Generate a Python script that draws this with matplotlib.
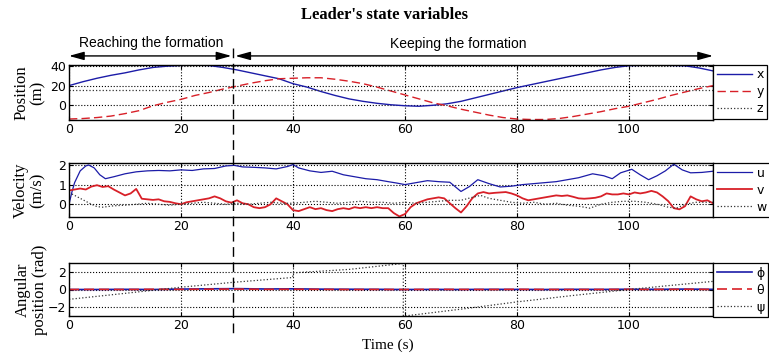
import matplotlib.pyplot as plt
from matplotlib import transforms
from matplotlib.lines import Line2D

plt.rcParams['font.family'] = ['DejaVu Sans']

# --- position (m) ---
t_pos = [0, 2.5, 5, 7.5, 10, 12.5, 15, 17.5, 20, 22.5, 25, 27.5, 30, 32.5, 35, 37.5,
         40, 42.5, 45, 47.5, 50, 52.5, 55, 57.5, 60, 62.5, 65, 67.5, 70, 72.5, 75, 77.5,
         80, 82.5, 85, 87.5, 90, 92.5, 95, 97.5, 100, 102.5, 105, 107.5, 110, 112.5, 115]
pos_x = [20, 24, 27.5, 30.5, 33, 36, 38.5, 39.8, 40.6, 40.8, 40.5, 38.5, 36, 33, 30, 27,
         22, 18.5, 14, 10, 6.5, 4, 2, 0.5, -0.5, -1, 0, 1.5, 4, 7.5, 11, 14.5,
         18, 21, 24, 27, 30, 33, 36, 38.5, 40.3, 40.7, 40.8, 40.6, 40.2, 38, 35]
pos_y = [-14, -13.5, -12.5, -11, -8.5, -5.5, -0.5, 3, 6, 10, 13, 16.5, 19.5, 22.5, 25, 27,
         27.5, 28, 28, 26.5, 24.5, 22, 18.5, 14.5, 10.5, 6.5, 2.5, -0.5, -4, -7, -10, -12.5,
         -14, -14.5, -14.5, -13.5, -11.5, -9, -6.5, -3.5, -1, 2.5, 6, 10, 13.5, 17, 20]
t_z = [0, 115]
pos_z = [16, 16]

# --- velocity (m/s) ---
t_u = [0, 0.5, 1, 2, 3, 3.5, 4.5, 5.5, 6.5, 8, 10, 12, 14, 16, 18, 20, 22, 24, 26, 28,
       29.5, 31, 33, 35, 37, 39, 40, 41, 43, 45, 47, 49, 51, 53, 55, 57, 58.5, 60, 62, 64,
       66, 68, 70, 71.5, 73, 75, 77, 79, 81, 83, 85, 87, 89, 91, 93.5, 95.5, 97, 98.5,
       100.5, 102, 103.5, 105, 106.5, 108, 109.5, 111, 113, 115]
vel_u = [0, 0.6, 1.1, 1.7, 1.95, 2.0, 1.85, 1.5, 1.3, 1.4, 1.55, 1.65, 1.7, 1.72, 1.7, 1.75,
         1.72, 1.8, 1.82, 1.95, 1.98, 1.9, 1.88, 1.85, 1.8, 1.92, 2.02, 1.85, 1.7, 1.62,
         1.68, 1.5, 1.4, 1.3, 1.25, 1.15, 1.08, 1.0, 1.1, 1.2, 1.15, 1.12, 0.65, 0.9, 1.25,
         1.05, 0.88, 0.92, 1.0, 1.05, 1.1, 1.15, 1.25, 1.35, 1.55, 1.45, 1.3, 1.6, 1.78,
         1.5, 1.25, 1.45, 1.7, 2.04, 1.75, 1.6, 1.62, 1.68]
t_v = list(range(0, 116))
vel_v = [0.7, 0.75, 0.8, 0.75, 0.9, 0.97, 0.88, 0.92, 0.75, 0.6, 0.45, 0.55, 0.78, 0.28,
         0.25, 0.22, 0.25, 0.15, 0.12, 0.05, 0.0, 0.1, 0.15, 0.2, 0.25, 0.3, 0.4, 0.3, 0.15,
         0.08, 0.2, 0.05, 0.0, -0.15, -0.2, -0.15, 0.0, 0.3, 0.15, 0.0, -0.3, -0.35, -0.25,
         -0.15, -0.25, -0.2, -0.3, -0.35, -0.25, -0.2, -0.25, -0.15, -0.2, -0.15, -0.2,
         -0.15, -0.2, -0.2, -0.45, -0.62, -0.5, -0.15, 0.05, 0.15, 0.25, 0.3, 0.35, 0.3,
         0.05, -0.2, -0.42, -0.1, 0.3, 0.55, 0.62, 0.55, 0.58, 0.6, 0.62, 0.55, 0.45, 0.3,
         0.2, 0.25, 0.3, 0.35, 0.4, 0.45, 0.42, 0.45, 0.38, 0.3, 0.28, 0.3, 0.33, 0.4, 0.55,
         0.5, 0.5, 0.55, 0.5, 0.6, 0.55, 0.6, 0.68, 0.6, 0.4, 0.16, -0.2, -0.26, -0.1, 0.4,
         0.25, 0.15, 0.2, 0.05]
t_w = [0, 1, 2, 3, 4, 5, 6, 8, 10, 12, 14, 16, 18, 20, 22, 24, 26, 28, 30, 32, 34, 36, 38,
       40, 42, 44, 46, 48, 50, 52, 54, 56, 58, 60, 62, 64, 66, 68, 70, 72, 73.5, 75, 77, 79,
       81, 83, 85, 87, 89, 91, 93, 95, 97, 99, 101, 103, 105, 107, 108.5, 110, 112, 115]
vel_w = [0.6, 0.45, 0.3, 0.15, 0.0, -0.12, -0.15, -0.08, -0.05, 0.0, 0.05, 0.0, -0.05, 0.0,
         0.05, 0.1, 0.05, 0.0, 0.05, 0.0, 0.05, 0.1, 0.05, 0.05, 0.1, 0.15, 0.1, 0.05, 0.1,
         0.15, 0.1, 0.1, 0.05, 0.1, 0.05, 0.1, 0.15, 0.2, 0.2, 0.35, 0.45, 0.3, 0.2, 0.1,
         0.05, 0.1, 0.0, 0.05, -0.05, -0.1, -0.2, 0.0, 0.1, 0.15, 0.15, 0.1, 0.0, -0.15,
         -0.2, 0.0, 0.1, 0.1]

# --- angular position (rad) ---
t_ang = [0, 5, 10, 15, 20, 25, 30, 35, 40, 45, 50, 55, 60, 65, 70, 75, 80, 85, 90, 95,
         100, 105, 110, 115]
ang_phi = [0, 0, 0.02, 0, 0.05, 0.08, 0.1, 0.06, 0.08, 0.04, 0.03, 0.02, 0, 0.01, 0, 0.02,
           0.01, 0, 0.02, 0.01, 0.03, 0.02, 0.05, 0.02]
ang_theta = [0, 0.02, 0, 0.03, 0.02, 0.04, 0.05, 0.02, 0.03, 0.02, 0, 0.01, 0, 0.02, 0.01,
             0, 0.02, 0.01, 0, 0.01, 0.02, 0.01, 0.03, 0.01]
t_psi = [0, 10, 20, 29.3, 39.9, 40.1, 50, 59.7, 59.7, 70, 80, 90, 100, 107, 115]
ang_psi = [-1.15, -0.45, 0.27, 0.84, 1.4, 1.95, 2.35, 3.05, -3.12, -2.3, -1.45, -0.7, 0.0,
           0.45, 0.95]

t_switch = 29.3

blue = '#1c1ca8'
red = '#d82028'
dots = '#333333'
serif = ['Liberation Serif', 'DejaVu Serif']
sans = ['Liberation Sans', 'DejaVu Sans']

fig = plt.figure(figsize=(7.69, 3.58), dpi=100)
W, H = 769.0, 358.0

def panel(top, bottom):
    return fig.add_axes([69 / W, 1 - bottom / H, (713 - 69) / W, (bottom - top) / H])

ax1 = panel(65, 120)
ax2 = panel(163, 217)
ax3 = panel(263, 316)

ax1.plot(t_pos, pos_x, color=blue, lw=1.0, label='x')
ax1.plot(t_pos, pos_y, color=red, lw=1.0, ls=(0, (6, 3)), label='y')
ax1.plot(t_z, pos_z, color=dots, lw=0.9, ls=':', label='z')
ax1.set_ylim(-15, 41)
ax1.set_yticks([0, 20, 40])

ax2.plot(t_u, vel_u, color=blue, lw=0.9, label='u')
ax2.plot(t_v, vel_v, color=red, lw=1.3, label='v')
ax2.plot(t_w, vel_w, color=dots, lw=0.9, ls=':', label='w')
ax2.set_ylim(-0.65, 2.1)
ax2.set_yticks([0, 1, 2])

ax3.plot(t_ang, ang_phi, color=blue, lw=1.2, label='ϕ')
ax3.plot(t_ang, ang_theta, color=red, lw=1.2, ls=(0, (6, 3)), label='θ')
ax3.plot(t_psi, ang_psi, color=dots, lw=0.9, ls=':', label='ψ')
ax3.set_ylim(-3.1, 3.1)
ax3.set_yticks([-2, 0, 2])

labels = [('Position\n(m)', ax1, -0.036), ('Velocity\n(m/s)', ax2, -0.036),
          ('Angular\nposition (rad)', ax3, -0.033)]
for text, ax, xpos in labels:
    ax.set_xlim(0, 115)
    ax.set_xticks([0, 20, 40, 60, 80, 100])
    ax.grid(True, color='black', ls=':', lw=0.8)
    ax.tick_params(direction='in', length=3, labelsize=9, top=True, right=True, pad=2)
    for s in ax.spines.values():
        s.set_linewidth(1.0)
    ax.set_ylabel(text, fontsize=12, family=serif, linespacing=1.05)
    ax.yaxis.set_label_coords(xpos, 0.5)
    leg = ax.legend(loc='upper left', bbox_to_anchor=(1.0, 1.0), borderaxespad=0,
                    fancybox=False, edgecolor='black', framealpha=1, fontsize=9,
                    handlelength=2.8, handletextpad=0.4, borderpad=0.28, labelspacing=0.32)
    leg.get_frame().set_linewidth(0.9)

ax3.set_xlabel('Time (s)', fontsize=11, family=serif, labelpad=3)
ax3.xaxis.set_label_coords(0.495, -0.42)

fig.text(0.5, 1 - 15 / H, "Leader's state variables", ha='center', va='center',
         fontsize=12, fontweight='bold', family=serif)

# phase arrows above the top panel
arrow = dict(arrowstyle='<|-|>,head_length=0.9,head_width=0.25', color='black', lw=1.0,
             shrinkA=0, shrinkB=0)
ax1.annotate('', xy=(0, 1.165), xytext=(t_switch - 0.3, 1.165),
             xycoords=('data', 'axes fraction'), arrowprops=arrow, annotation_clip=False)
ax1.annotate('', xy=(t_switch + 0.4, 1.165), xytext=(115, 1.165),
             xycoords=('data', 'axes fraction'), arrowprops=arrow, annotation_clip=False)
ax1.text(t_switch / 2, 1.40, 'Reaching the formation', transform=ax1.get_xaxis_transform(),
         ha='center', va='center', fontsize=10, family=sans, clip_on=False)
ax1.text(69.5, 1.38, 'Keeping the formation', transform=ax1.get_xaxis_transform(),
         ha='center', va='center', fontsize=10, family=sans, clip_on=False)

# dashed separator across all panels
trans = transforms.blended_transform_factory(ax1.transData, fig.transFigure)
fig.add_artist(Line2D([t_switch, t_switch], [1 - 48 / H, 1 - 336 / H], transform=trans,
                      color='black', lw=1.0, ls=(0, (7, 4))))

fig.savefig('out.png', dpi=100)
